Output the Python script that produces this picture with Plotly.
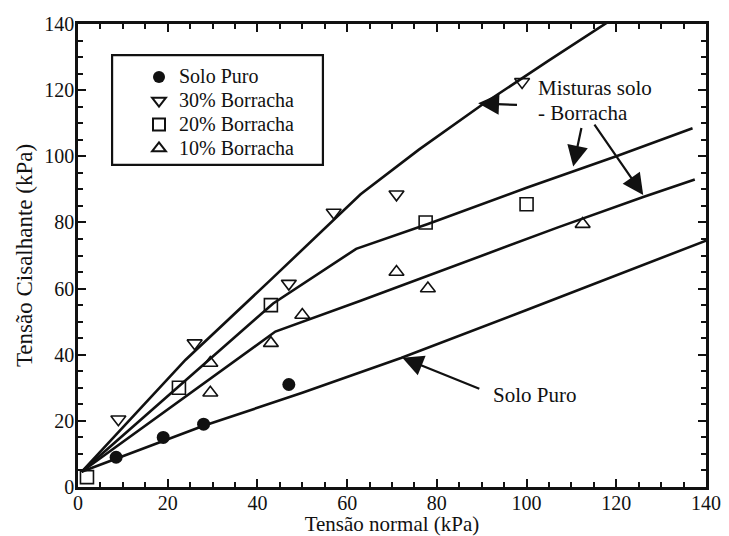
import plotly.graph_objects as go

# ---- data ----
solo_x = [8.5, 19, 28, 47]
solo_y = [9, 15, 19, 31]
b30_x = [9, 26, 47, 57, 71, 99]
b30_y = [20.5, 43.5, 61.5, 83, 88.5, 122.5]
b20_x = [2, 22.5, 43, 77.5, 100]
b20_y = [3, 30, 55, 80, 85.5]
b10_x = [29.5, 29.5, 43, 50, 71, 78, 112.5]
b10_y = [37.5, 28.5, 43.5, 52, 65, 60, 79.5]

# fitted envelope curves (vertices)
fit_solo_x = [0.8, 28, 50, 72, 100, 120, 140]
fit_solo_y = [4.6, 18.5, 28.5, 39, 53.5, 64, 74.5]
fit10_x = [0.8, 44, 63, 107, 126, 137.5]
fit10_y = [4.6, 47, 56.3, 78.5, 87.7, 93]
fit20_x = [0.8, 43.5, 62, 78, 100, 120, 137]
fit20_y = [4.6, 55.5, 72, 79.5, 90.5, 100, 108.5]
fit30_x = [0.8, 24, 43, 63, 76, 90, 105, 119.5]
fit30_y = [4.6, 38.5, 62.7, 88.5, 102, 115.5, 129, 141.8]

tick_vals = [0, 20, 40, 60, 80, 100, 120, 140]
tick_text = ["0", "20", "40", "60", "80", "100", "120", "140"]

names = ["Solo Puro", "30% Borracha", "20% Borracha", "10% Borracha"]

FONT = "Liberation Serif, Times New Roman, serif"
BLACK = "#111111"


def leg(name):
    return '<span style="font-size:20px">' + name + "</span>"


fig = go.Figure()

for fx, fy in [(fit_solo_x, fit_solo_y), (fit10_x, fit10_y), (fit20_x, fit20_y), (fit30_x, fit30_y)]:
    fig.add_trace(go.Scatter(x=fx, y=fy, mode="lines", showlegend=False, hoverinfo="skip",
                             line=dict(color=BLACK, width=2.6)))

fig.add_trace(go.Scatter(x=solo_x, y=solo_y, mode="markers", name=leg(names[0]),
                         marker=dict(symbol="circle", size=13, color=BLACK)))
fig.add_trace(go.Scatter(x=b30_x, y=b30_y, mode="markers", name=leg(names[1]),
                         marker=dict(symbol="triangle-down-open", size=13, color=BLACK,
                                     line=dict(width=1.6, color=BLACK))))
fig.add_trace(go.Scatter(x=b20_x, y=b20_y, mode="markers", name=leg(names[2]),
                         marker=dict(symbol="square-open", size=13, color=BLACK,
                                     line=dict(width=1.6, color=BLACK))))
fig.add_trace(go.Scatter(x=b10_x, y=b10_y, mode="markers", name=leg(names[3]),
                         marker=dict(symbol="triangle-up-open", size=13, color=BLACK,
                                     line=dict(width=1.6, color=BLACK))))

axis_common = dict(
    showline=True, linecolor=BLACK, linewidth=2.5, mirror="allticks",
    ticks="inside", ticklen=8, tickwidth=2, tickcolor=BLACK,
    minor=dict(ticks="inside", ticklen=5, tickwidth=2, dtick=5, tickcolor=BLACK),
    showgrid=False, zeroline=False,
    tickfont=dict(family=FONT, size=20, color=BLACK),
    tickmode="array", tickvals=tick_vals, ticktext=tick_text,
)

fig.update_xaxes(range=[0, 140], ticklabelstandoff=-4,
                 title=dict(text="Tensão normal (kPa)", standoff=4,
                            font=dict(family=FONT, size=21, color=BLACK)), **axis_common)
fig.update_yaxes(range=[0, 140], ticklabelstandoff=-3,
                 title=dict(text="Tensão Cisalhante (kPa)", standoff=6,
                            font=dict(family=FONT, size=23, color=BLACK)), **axis_common)

# legend frame
fig.add_shape(type="rect", xref="x", yref="y", x0=7.6, x1=54.6, y0=97.4, y1=130.6,
              line=dict(color=BLACK, width=2.2), fillcolor="white", layer="below")

# arrows
arrows = [
    (89.2, 116.0, 98.2, 115.5),
    (110.4, 96.9, 112.3, 109.0),
    (126.0, 88.3, 114.9, 110.0),
    (72.3, 39.1, 89.8, 29.5),
]
for hx, hy, tx, ty in arrows:
    fig.add_annotation(x=hx, y=hy, ax=tx, ay=ty, xref="x", yref="y", axref="x", ayref="y",
                       text="", showarrow=True, arrowhead=2, arrowsize=1.9, arrowwidth=2.2,
                       arrowcolor=BLACK, standoff=0, startstandoff=0)

labels = [
    ("Misturas solo", 102.1, 120.7),
    ("- Borracha", 102.1, 113.1),
    ("Solo Puro", 92.1, 27.9),
]
for t, lx, ly in labels:
    fig.add_annotation(x=lx, y=ly, xref="x", yref="y", text=t, showarrow=False,
                       xanchor="left", yanchor="middle",
                       font=dict(family=FONT, size=21, color=BLACK))

fig.update_layout(
    width=729, height=536,
    margin=dict(l=78, r=23, t=24, b=49, autoexpand=False),
    paper_bgcolor="white", plot_bgcolor="white",
    showlegend=True,
    legend=dict(x=(139 - 78) / 628, y=(487 - 60) / 463, xanchor="left", yanchor="top",
                bgcolor="rgba(0,0,0,0)", borderwidth=0,
                font=dict(family=FONT, size=16, color=BLACK),
                itemsizing="constant", tracegroupgap=0),
    font=dict(family=FONT, color=BLACK),
)

fig.write_html("out.html")
